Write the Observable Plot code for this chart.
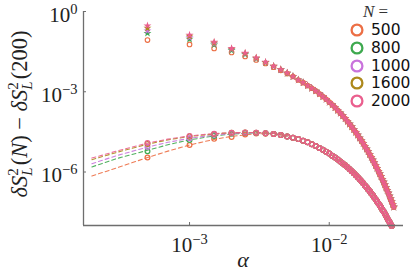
<!DOCTYPE html>
<html>
<head>
<meta charset="utf-8">
<script src="https://cdn.jsdelivr.net/npm/d3@7"></script>
<script src="https://cdn.jsdelivr.net/npm/@observablehq/plot@0.6"></script>
<style>
  html, body { margin: 0; padding: 0; background: #fff; }
  #wrap { position: relative; width: 415px; height: 277px; overflow: hidden; }
  .leg-row { position: absolute; height: 18px; line-height: 18px; font-family: "DejaVu Sans", sans-serif; font-size: 15.5px; color: #111; white-space: nowrap; }
  .leg-row svg { position: absolute; left: 0; top: 1px; }
  .leg-row span { position: absolute; left: 22px; top: 0; }
  #legtitle { position: absolute; font-family: "Liberation Serif", serif; font-size: 17px; color: #333; white-space: nowrap; }
</style>
</head>
<body>
<div id="wrap"></div>
<script>
// ---------------- data ----------------
const Ns = [500, 800, 1000, 1600, 2000];
const colors = ["#ec6f45", "#3ea94f", "#c973dc", "#ad891c", "#ea5f8e"];

const alpha = [0.0005, 0.0010, 0.0015, 0.0020, 0.0025, 0.0030, 0.0035, 0.0040, 0.0045, 0.0050,
  0.0055, 0.0060, 0.0065, 0.0070, 0.0075, 0.0080, 0.0085, 0.0090, 0.0095, 0.0100,
  0.0105, 0.0110, 0.0115, 0.0120, 0.0125, 0.0130, 0.0135, 0.0140, 0.0145, 0.0150,
  0.0155, 0.0160, 0.0165, 0.0170, 0.0175, 0.0180, 0.0185, 0.0190, 0.0195, 0.0200,
  0.0205, 0.0210, 0.0215, 0.0220, 0.0225, 0.0230, 0.0235, 0.0240, 0.0245, 0.0250,
  0.0255, 0.0260, 0.0265, 0.0270, 0.0275, 0.0280, 0.0285, 0.0290];

// upper branch, log10 values (first 10 alphas differ per N, the rest coincide)
const upperHead500  = [-1.07, -1.23, -1.38, -1.53, -1.68, -1.81, -1.94, -2.08, -2.20, -2.32];
const upperHead800  = [-0.81, -1.03, -1.24, -1.45, -1.60, -1.76, -1.91, -2.05, -2.18, -2.31];
const upperHead1000 = [-0.72, -0.97, -1.20, -1.42, -1.58, -1.75, -1.90, -2.05, -2.18, -2.30];
const upperHead1600 = [-0.62, -0.92, -1.17, -1.40, -1.57, -1.74, -1.90, -2.04, -2.17, -2.30];
const upperHead2000 = [-0.53, -0.88, -1.14, -1.38, -1.55, -1.73, -1.89, -2.04, -2.17, -2.30];
const upperTail = [-2.43, -2.56, -2.66, -2.77, -2.87, -2.97, -3.08, -3.18, -3.28, -3.39,
  -3.49, -3.59, -3.70, -3.80, -3.90, -4.00, -4.11, -4.21, -4.31, -4.42,
  -4.52, -4.62, -4.73, -4.83, -4.93, -5.04, -5.14, -5.24, -5.35, -5.45,
  -5.55, -5.66, -5.76, -5.86, -5.97, -6.07, -6.17, -6.28, -6.38, -6.48,
  -6.59, -6.69, -6.79, -6.90, -7.00, -7.10, -7.21, -7.31];

// lower branch, log10 values (first 7 alphas differ per N, the rest coincide)
const lowerHead500  = [-5.46, -4.99, -4.76, -4.69, -4.60, -4.56, -4.57];
const lowerHead800  = [-5.22, -4.80, -4.65, -4.57, -4.54, -4.54, -4.55];
const lowerHead1000 = [-5.07, -4.74, -4.61, -4.55, -4.53, -4.53, -4.55];
const lowerHead1600 = [-4.95, -4.67, -4.58, -4.53, -4.52, -4.53, -4.55];
const lowerHead2000 = [-4.92, -4.65, -4.57, -4.53, -4.52, -4.53, -4.55];
const lowerTail = [-4.58, -4.62, -4.67, -4.72, -4.77, -4.83, -4.89, -4.96, -5.03, -5.10,
  -5.17, -5.24, -5.31, -5.39, -5.46, -5.53, -5.61, -5.68, -5.75, -5.82,
  -5.90, -5.97, -6.05, -6.12, -6.20, -6.27, -6.35, -6.42, -6.50, -6.57,
  -6.65, -6.72, -6.80, -6.87, -6.95, -7.03, -7.10, -7.18, -7.25, -7.33,
  -7.41, -7.48, -7.56, -7.64, -7.72, -7.80, -7.87, -7.95, -8.02, null, null];

// dashed fits, log10 values
const fitAlpha = [0.0002, 0.0003, 0.0005, 0.0007, 0.0010, 0.0015, 0.0020, 0.0030, 0.0040, 0.0050];
const fit500  = [-6.15, -5.85, -5.46, -5.22, -4.99, -4.78, -4.67, -4.57, -4.57, -4.66];
const fit800  = [-5.81, -5.50, -5.19, -4.98, -4.80, -4.65, -4.58, -4.53, -4.56, -4.65];
const fit1000 = [-5.69, -5.39, -5.07, -4.89, -4.74, -4.62, -4.56, -4.53, -4.56, -4.65];
const fit1600 = [-5.54, -5.27, -4.96, -4.80, -4.67, -4.58, -4.53, -4.52, -4.56, -4.65];
const fit2000 = [-5.48, -5.22, -4.92, -4.77, -4.65, -4.56, -4.53, -4.52, -4.56, -4.65];

const xTicks = [1e-3, 1e-2];
const yTicks = [1e0, 1e-3, 1e-6];
const xDomain = [1.742e-4, 3.4e-2];
const yDomain = [1e-8, 1];

// ---------------- tidy rows ----------------
const upperSeries = {500: [...upperHead500, ...upperTail], 800: [...upperHead800, ...upperTail],
  1000: [...upperHead1000, ...upperTail], 1600: [...upperHead1600, ...upperTail], 2000: [...upperHead2000, ...upperTail]};
const lowerSeries = {500: [...lowerHead500, ...lowerTail], 800: [...lowerHead800, ...lowerTail],
  1000: [...lowerHead1000, ...lowerTail], 1600: [...lowerHead1600, ...lowerTail], 2000: [...lowerHead2000, ...lowerTail]};
const fitSeries = {500: fit500, 800: fit800, 1000: fit1000, 1600: fit1600, 2000: fit2000};

function rows(series, xs) {
  const out = [];
  for (const N of Ns) series[N].forEach((v, i) => { if (v != null) out.push({N, alpha: xs[i], value: Math.pow(10, v)}); });
  return out;
}
const upperRows = rows(upperSeries, alpha);
const lowerRows = rows(lowerSeries, alpha);
const fitRows = rows(fitSeries, fitAlpha);

const serif = "'Liberation Serif', 'DejaVu Serif', serif";
const gray = "#6e6e6e";

const chart = Plot.plot({
  width: 415, height: 277,
  marginLeft: 83, marginRight: 12, marginTop: 11, marginBottom: 52,
  style: {fontFamily: serif, fontSize: "21px", color: "#222", background: "white"},
  x: {type: "log", domain: xDomain},
  y: {type: "log", domain: yDomain},
  color: {domain: Ns, range: colors},
  marks: [
    Plot.lineY(fitRows, {x: "alpha", y: "value", z: "N", stroke: "N", strokeWidth: 1.1, strokeDasharray: "4,3", strokeOpacity: 0.9}),
    Plot.dot(lowerRows, {x: "alpha", y: "value", stroke: "N", r: 2.4, strokeWidth: 1.2}),
    Plot.dot(upperRows.filter(d => d.N === 500), {x: "alpha", y: "value", stroke: "N", r: 2.3, strokeWidth: 1.1}),
    Plot.dot(upperRows.filter(d => d.N !== 500), {x: "alpha", y: "value", fill: "N", symbol: "star", r: 2.5}),
    Plot.ruleX([xDomain[0]], {stroke: gray, strokeWidth: 1.3}),
    Plot.ruleY([yDomain[0]], {stroke: gray, strokeWidth: 1.3}),
    Plot.tickY(yTicks, {y: d => d, insetRight: 317, stroke: gray, strokeWidth: 1}),
    Plot.tickX(xTicks, {x: d => d, insetTop: 211, stroke: gray, strokeWidth: 1}),
    Plot.axisY({ticks: yTicks, tickSize: 0, tickPadding: 6, label: null, tickFormat: d => "10^" + Math.round(Math.log10(d))}),
    Plot.axisX({ticks: xTicks, tickSize: 0, tickPadding: 0, label: null, tickFormat: d => "10^" + Math.round(Math.log10(d))})
  ]
});

document.getElementById("wrap").appendChild(chart);
const svg = chart.tagName.toLowerCase() === "svg" ? chart : chart.querySelector("svg");
const NS = "http://www.w3.org/2000/svg";

// power-of-ten labels with real superscripts
function supify(selector, yAttr) {
  svg.querySelectorAll(selector).forEach(t => {
    const parts = t.textContent.split("^");
    t.textContent = "";
    t.setAttribute("y", yAttr);
    const a = document.createElementNS(NS, "tspan");
    a.textContent = parts[0];
    const b = document.createElementNS(NS, "tspan");
    b.textContent = parts[1].replace("-", "\u2212");
    b.setAttribute("dy", "-8");
    b.setAttribute("font-size", "14.5");
    t.append(a, b);
  });
}
supify('g[aria-label="y-axis tick label"] text', "10");
supify('g[aria-label="x-axis tick label"] text', "26");

// axis titles
const s = d3.select(svg);
s.append("text").attr("x", 243).attr("y", 267).attr("text-anchor", "middle")
  .attr("font-family", serif).attr("font-size", 22).attr("font-style", "italic").attr("fill", "#222").text("\u03b1");

const yl = s.append("text").attr("transform", "translate(27,114) rotate(-90)").attr("text-anchor", "middle")
  .attr("font-family", serif).attr("font-size", 22.5).attr("fill", "#222");
function ts(txt, o = {}) {
  const t = yl.append("tspan").text(txt);
  if (o.it) t.attr("font-style", "italic");
  if (o.size) t.attr("font-size", o.size);
  if (o.dx != null) t.attr("dx", o.dx);
  if (o.dy != null) t.attr("dy", o.dy);
}
ts("\u03b4", {it: 1}); ts("S", {it: 1}); ts("2", {size: 15, dy: -9}); ts("L", {it: 1, size: 15, dx: -7.5, dy: 14});
ts("(", {dx: 2, dy: -5}); ts("N", {it: 1}); ts(")"); ts(" \u2212 ");
ts("\u03b4", {it: 1}); ts("S", {it: 1}); ts("2", {size: 15, dy: -9}); ts("L", {it: 1, size: 15, dx: -7.5, dy: 14});
ts("(200)", {dx: 2, dy: -5});

// legend
const wrap = document.getElementById("wrap");
const title = document.createElement("div");
title.id = "legtitle";
title.style.left = "363px"; title.style.top = "2px";
title.innerHTML = "<i>N</i> =";
wrap.appendChild(title);
Ns.forEach((N, i) => {
  const row = document.createElement("div");
  row.className = "leg-row";
  row.style.left = "349px";
  row.style.top = (21 + i * 17.8) + "px";
  row.innerHTML = `<svg width="16" height="16"><circle cx="8" cy="8" r="5.4" fill="none" stroke="${colors[i]}" stroke-width="2.3"/></svg><span>${N}</span>`;
  wrap.appendChild(row);
});
</script>
</body>
</html>
